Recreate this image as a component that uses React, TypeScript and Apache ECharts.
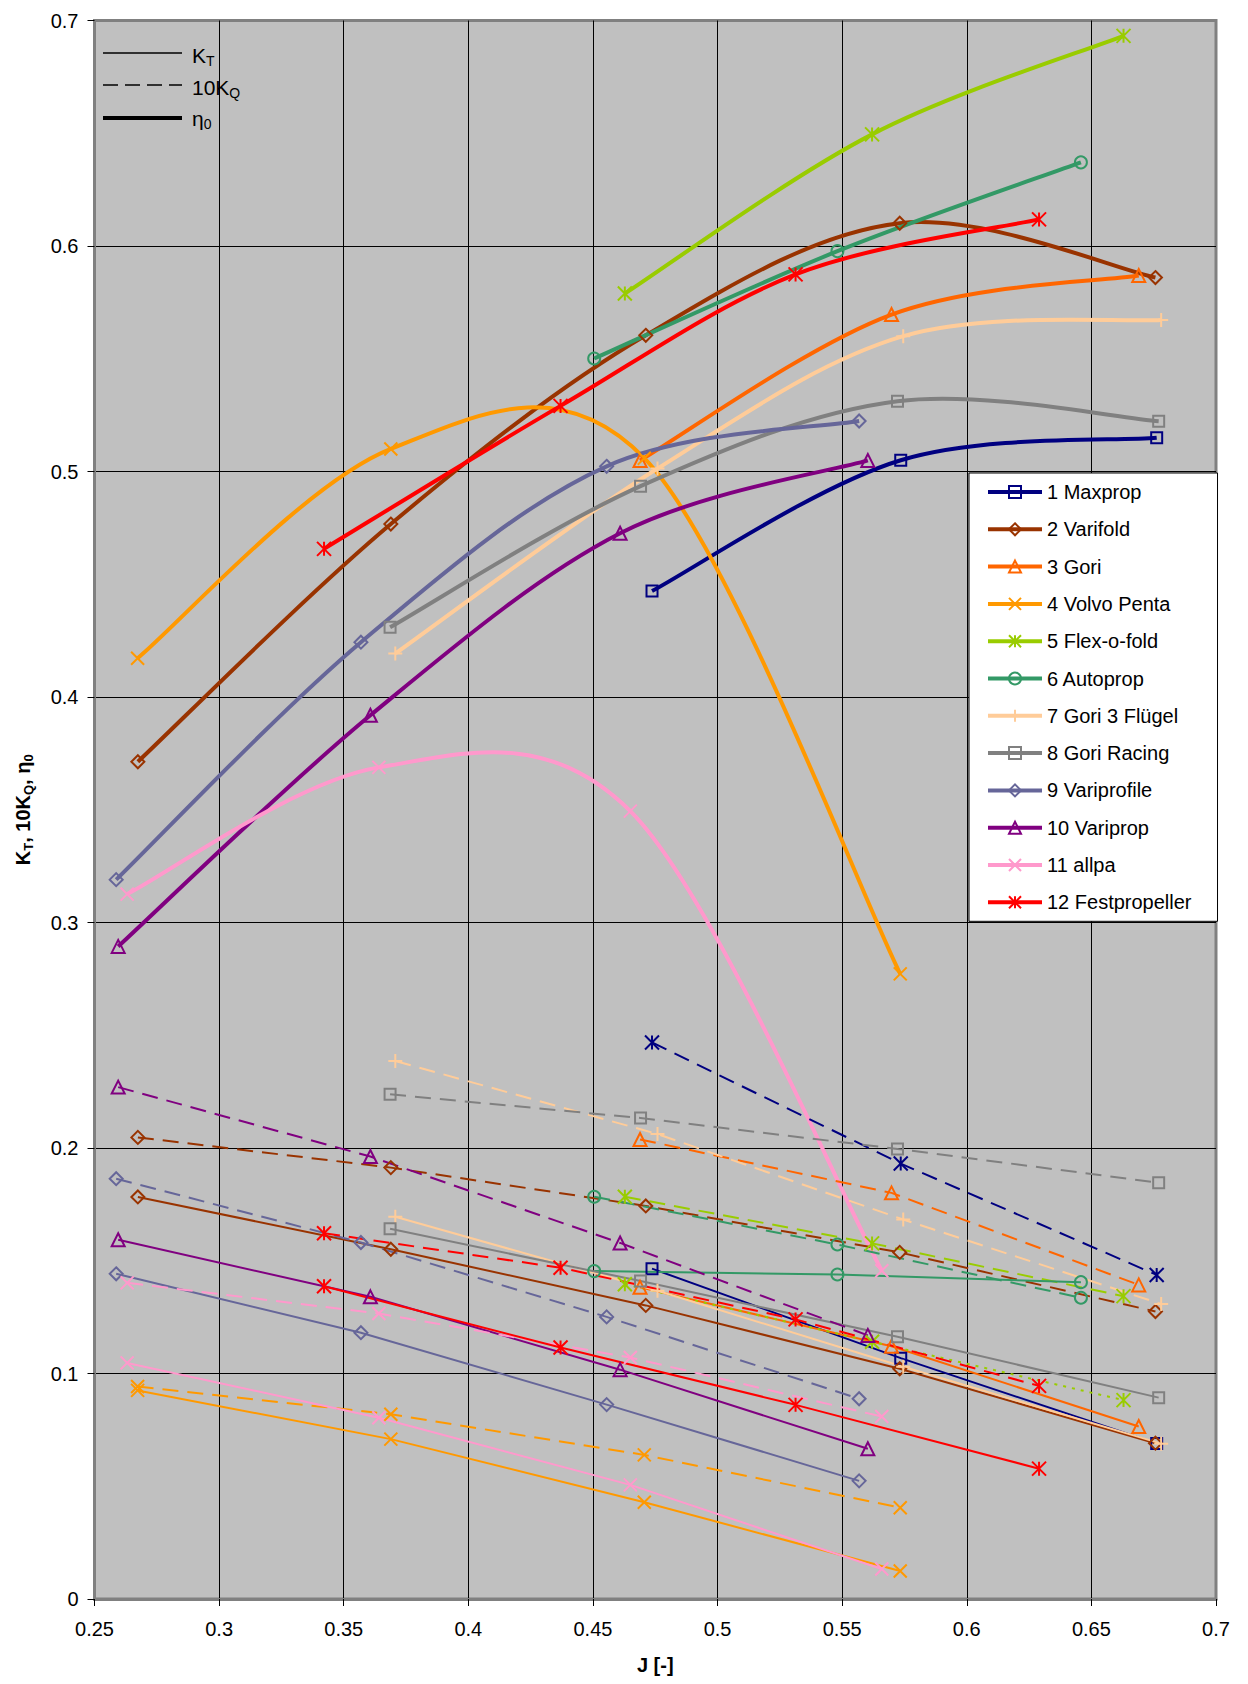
import React, { useEffect, useRef } from 'react';
import * as echarts from 'echarts';

const FONT = "'Liberation Sans', Arial, sans-serif";

const names = ['1 Maxprop', '2 Varifold', '3 Gori', '4 Volvo Penta', '5 Flex-o-fold', '6 Autoprop', '7 Gori 3 Flügel', '8 Gori Racing', '9 Variprofile', '10 Variprop', '11 allpa', '12 Festpropeller'];
const colors = ['#000080', '#993300', '#FF6600', '#FF9900', '#99CC00', '#339966', '#FFCC99', '#808080', '#666699', '#800080', '#FF99CC', '#FF0000'];

// advance ratio J per propeller
const J = [
  [0.4737, 0.5735, 0.6762],
  [0.2674, 0.3689, 0.4712, 0.5731, 0.6757],
  [0.4689, 0.5698, 0.669],
  [0.2673, 0.3689, 0.4706, 0.5733],
  [0.4628, 0.562, 0.6629],
  [0.4505, 0.5481, 0.6458],
  [0.3707, 0.4759, 0.5745, 0.678],
  [0.3686, 0.4691, 0.5722, 0.677],
  [0.2587, 0.3569, 0.4555, 0.5568],
  [0.2595, 0.3607, 0.4609, 0.5603],
  [0.2631, 0.3641, 0.465, 0.5659],
  [0.3421, 0.437, 0.5313, 0.629],
];
// efficiency eta0
const ETA = [
  [0.447, 0.505, 0.515],
  [0.3713, 0.4767, 0.5604, 0.6101, 0.586],
  [0.5049, 0.5696, 0.5869],
  [0.4172, 0.51, 0.5059, 0.2772],
  [0.5789, 0.6495, 0.6932],
  [0.5501, 0.5977, 0.6371],
  [0.4193, 0.5013, 0.56, 0.5672],
  [0.4309, 0.4935, 0.5312, 0.5223],
  [0.319, 0.4243, 0.5023, 0.5224],
  [0.2894, 0.3919, 0.4726, 0.5049],
  [0.3126, 0.3688, 0.3494, 0.1456],
  [0.4657, 0.5291, 0.5874, 0.6118],
];
// thrust coefficient KT
const KT = [
  [0.1465, 0.1068, 0.069],
  [0.1783, 0.1551, 0.1302, 0.1021, 0.0691],
  [0.1382, 0.1121, 0.0765],
  [0.0925, 0.0709, 0.0429, 0.0124],
  [0.1396, 0.1141, 0.0882],
  [0.1454, 0.1439, 0.1405],
  [0.1695, 0.1367, 0.103, 0.0689],
  [0.1642, 0.141, 0.1163, 0.0893],
  [0.1442, 0.1181, 0.0862, 0.0524],
  [0.1593, 0.134, 0.1017, 0.0666],
  [0.1047, 0.0804, 0.0506, 0.0133],
  [0.1387, 0.1115, 0.0861, 0.0578],
];
// torque coefficient 10KQ
const KQ10 = [
  [0.2468, 0.1931, 0.1437],
  [0.2047, 0.1913, 0.1743, 0.1537, 0.1275],
  [0.2038, 0.1801, 0.1393],
  [0.0942, 0.0819, 0.0639, 0.0405],
  [0.1784, 0.1577, 0.1343],
  [0.1784, 0.1572, 0.1336],
  [0.2386, 0.2062, 0.1683, 0.1308],
  [0.2238, 0.2133, 0.1996, 0.1846],
  [0.1864, 0.1581, 0.1251, 0.0888],
  [0.227, 0.1962, 0.1579, 0.1169],
  [0.1402, 0.1266, 0.1071, 0.0809],
  [0.1622, 0.1469, 0.124, 0.0945],
];

const X_MIN = 0.25, X_MAX = 0.7, X_STEP = 0.05;
const Y_MIN = 0, Y_MAX = 0.7, Y_STEP = 0.1;

const SYM_X = 'path://M0,0L10,10M10,0L0,10';
const SYM_AST = 'path://M0,0L10,10M10,0L0,10M5,0L5,10';
const SYM_PLUS = 'path://M5,0L5,10M0,5L10,5';
const symbols = ['rect', 'diamond', 'triangle', SYM_X, SYM_AST, 'circle', SYM_PLUS, 'rect', 'diamond', 'triangle', SYM_X, SYM_AST];
const symSizes = [11, 13, 13, 13, 14, 12, 14, 11, 13, 13, 13, 14];

function smoothPath(pts: number[][]): string {
  const n = pts.length;
  let d = `M${pts[0][0]},${pts[0][1]}`;
  for (let i = 0; i < n - 1; i++) {
    const p0 = pts[Math.max(i - 1, 0)];
    const p1 = pts[i];
    const p2 = pts[i + 1];
    const p3 = pts[Math.min(i + 2, n - 1)];
    const c1x = p1[0] + (p2[0] - p0[0]) / 6;
    const c1y = p1[1] + (p2[1] - p0[1]) / 6;
    const c2x = p2[0] - (p3[0] - p1[0]) / 6;
    const c2y = p2[1] - (p3[1] - p1[1]) / 6;
    d += `C${c1x},${c1y},${c2x},${c2y},${p2[0]},${p2[1]}`;
  }
  return d;
}

function buildOption(): any {
  const series: any[] = [];
  series.push({
    type: 'custom',
    name: 'eta-curves',
    coordinateSystem: 'cartesian2d',
    silent: true,
    z: 2,
    data: names.map((_, i) => [J[i][0], ETA[i][0], i]),
    encode: { x: 0, y: 1 },
    renderItem: (params: any, api: any) => {
      const i = api.value(2);
      const pts = J[i].map((x, k) => api.coord([x, ETA[i][k]]));
      return {
        type: 'path',
        shape: { pathData: smoothPath(pts) },
        style: { fill: 'none', stroke: colors[i], lineWidth: 4 },
      };
    },
  });
  names.forEach((nm, i) => {
    const c = colors[i];
    const hollow = { color: 'none', borderColor: c, borderWidth: 2 };
    series.push({
      type: 'line', name: nm, z: 4,
      data: J[i].map((x, k) => [x, ETA[i][k]]),
      symbol: symbols[i], symbolSize: symSizes[i],
      itemStyle: hollow,
      lineStyle: { color: c, width: 4, opacity: 0 },
      emphasis: { disabled: true },
    });
    series.push({
      type: 'line', name: nm + ' KT', z: 3,
      data: J[i].map((x, k) => [x, KT[i][k]]),
      symbol: symbols[i], symbolSize: symSizes[i],
      itemStyle: hollow,
      lineStyle: { color: c, width: 2, type: i === 4 ? [3, 6] : 'solid' },
      emphasis: { disabled: true },
    });
    series.push({
      type: 'line', name: nm + ' 10KQ', z: 3,
      data: J[i].map((x, k) => [x, KQ10[i][k]]),
      symbol: i === 0 ? SYM_AST : symbols[i], symbolSize: i === 0 ? 14 : symSizes[i],
      itemStyle: hollow,
      lineStyle: { color: c, width: 2, type: [16, 9] },
      emphasis: { disabled: true },
    });
  });

  const legendData = names.map((nm, i) => ({
    name: nm,
    itemStyle: { color: 'none', borderColor: colors[i], borderWidth: 2 },
    lineStyle: { color: colors[i], width: 4, opacity: 1, type: 'solid' },
  }));

  const sub = { fontSize: 14, fontFamily: FONT, lineHeight: 12, verticalAlign: 'bottom', color: '#000' };
  const main = { fontSize: 21, fontFamily: FONT, lineHeight: 26, color: '#000' };

  return {
    animation: false,
    textStyle: { fontFamily: FONT },
    grid: {
      left: 94.5, right: 32, top: 20.5, bottom: 85,
      show: true, backgroundColor: '#C0C0C0', borderColor: '#808080', borderWidth: 3,
      outerBoundsMode: 'none',
    },
    xAxis: {
      type: 'value', min: X_MIN, max: X_MAX, interval: X_STEP,
      name: 'J [-]', nameLocation: 'middle', nameGap: 56,
      nameTextStyle: { fontSize: 20, fontWeight: 'bold', color: '#000', fontFamily: FONT },
      axisLine: { show: true, lineStyle: { color: '#808080', width: 3 } },
      axisTick: { show: true, length: 7, lineStyle: { color: '#000', width: 1 } },
      axisLabel: { fontSize: 20, color: '#000', margin: 20, fontFamily: FONT },
      splitLine: { show: true, showMinLine: false, showMaxLine: false, lineStyle: { color: '#000', width: 1 } },
    },
    yAxis: {
      type: 'value', min: Y_MIN, max: Y_MAX, interval: Y_STEP,
      name: '{b|K}{s|T}{b|, 10K}{s|Q}{b|, η}{s|0}', nameLocation: 'middle', nameGap: 60,
      nameTextStyle: {
        fontSize: 20, fontWeight: 'bold', color: '#000', fontFamily: FONT,
        rich: {
          b: { fontSize: 20, fontWeight: 'bold', fontFamily: FONT, lineHeight: 24, color: '#000' },
          s: { fontSize: 13, fontWeight: 'bold', fontFamily: FONT, lineHeight: 11, verticalAlign: 'bottom', color: '#000' },
        },
      },
      axisLine: { show: true, lineStyle: { color: '#808080', width: 3 } },
      axisTick: { show: true, length: 7, lineStyle: { color: '#000', width: 1 } },
      axisLabel: { fontSize: 20, color: '#000', margin: 16, fontFamily: FONT },
      splitLine: { show: true, showMinLine: false, showMaxLine: false, lineStyle: { color: '#000', width: 1 } },
    },
    legend: {
      orient: 'vertical', left: 969, top: 473,
      data: legendData,
      itemWidth: 54, itemHeight: 15, itemGap: 17.3,
      padding: [9, 26, 9, 17],
      backgroundColor: '#fff', borderColor: '#000', borderWidth: 1,
      selectedMode: false,
      textStyle: { fontSize: 20, color: '#000', fontFamily: FONT, lineHeight: 20 },
    },
    graphic: [
      { type: 'line', shape: { x1: 103, y1: 53, x2: 182, y2: 53 }, style: { stroke: '#000', lineWidth: 1.5 } },
      { type: 'line', shape: { x1: 103, y1: 85, x2: 182, y2: 85 }, style: { stroke: '#000', lineWidth: 1.5, lineDash: [15, 7] } },
      { type: 'line', shape: { x1: 103, y1: 118, x2: 182, y2: 118 }, style: { stroke: '#000', lineWidth: 4 } },
      { type: 'text', x: 192, y: 55, style: { text: '{m|K}{s|T}', rich: { m: main, s: sub }, verticalAlign: 'middle', align: 'left' } },
      { type: 'text', x: 192, y: 87, style: { text: '{m|10K}{s|Q}', rich: { m: main, s: sub }, verticalAlign: 'middle', align: 'left' } },
      { type: 'text', x: 192, y: 118, style: { text: '{m|η}{s|0}', rich: { m: main, s: sub }, verticalAlign: 'middle', align: 'left' } },
    ],
    series,
  };
}

export default function App() {
  const ref = useRef<HTMLDivElement>(null);
  useEffect(() => {
    if (!ref.current) return;
    const chart = echarts.init(ref.current, null, { renderer: 'svg' });
    chart.setOption(buildOption());
    return () => chart.dispose();
  }, []);
  return (
    <div
      ref={ref}
      style={{ position: 'absolute', left: 0, top: 0, width: 1248, height: 1684, background: '#fff' }}
    />
  );
}
